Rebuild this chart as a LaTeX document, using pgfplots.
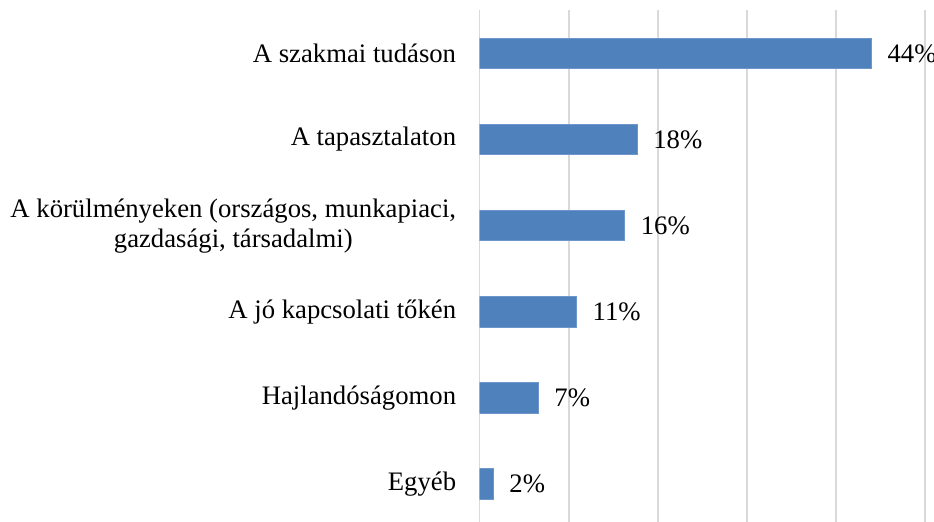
\documentclass[border=0pt]{standalone}
\usepackage{fontspec}
\setmainfont{Liberation Serif}
\usepackage{pgfplots}
\pgfplotsset{compat=1.18}
\definecolor{barblue}{HTML}{4F81BD}
\definecolor{baredge}{HTML}{6E96CA}
\definecolor{gridgray}{HTML}{D9D9D9}
\begin{document}
\begin{tikzpicture}
\begin{axis}[
  name=ax,
  scale only axis,
  width=222.75pt, height=256pt,
  xbar, bar width=15.25pt, bar shift=0pt,
  xmin=0, xmax=50,
  ymin=-0.44, ymax=5.503,
  enlargelimits=false,
  axis line style={draw=none},
  xtick={0,10,20,30,40,50}, xticklabels={},
  xmajorgrids, grid style={gridgray, line width=0.9pt},
  major tick length=0pt,
  ytick={0,1,2,3,4,5},
  yticklabels={Egyéb, Hajlandóságomon, A jó kapcsolati tőkén, {A körülményeken (országos, munkapiaci,\\gazdasági, társadalmi)}, A tapasztalaton, A szakmai tudáson},
  yticklabel style={align=center, font=\fontsize{13.35}{15}\selectfont, inner sep=0pt, xshift=-11.5pt},
  /pgf/number format/assume math mode=true,
  nodes near coords={\pgfmathprintnumber[fixed,precision=0]{\pgfplotspointmeta}\%},
  every node near coord/.append style={font=\fontsize{13.35}{15}\selectfont, anchor=west, inner sep=0pt, xshift=7.8pt, text=black},
]
\addplot[fill=barblue, draw=baredge, line width=0.5pt] coordinates {
  (1.55,0) (6.6,1) (10.9,2) (16.3,3) (17.7,4) (44.0,5)
};
\end{axis}
\pgfresetboundingbox
\path ([xshift=-239.75pt]ax.south west) rectangle ([xshift=4.5pt,yshift=5pt]ax.north east);
\end{tikzpicture}
\end{document}
